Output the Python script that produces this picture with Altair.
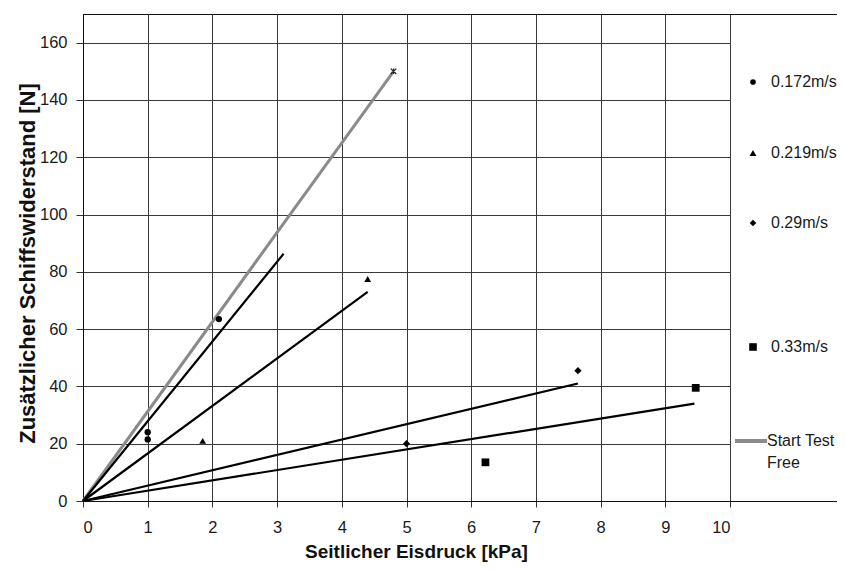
import altair as alt
import pandas as pd

# ---------------- data ----------------
series_names = ["0.172m/s", "0.219m/s", "0.29m/s", "0.33m/s"]
series_shapes = ["circle", "triangle-up", "diamond", "square"]
series_sizes = [40, 60, 55, 72]

x_0172 = [1.0, 1.0, 2.1]
y_0172 = [24.0, 21.5, 63.5]
x_0219 = [1.85, 4.4]
y_0219 = [21.0, 77.5]
x_029 = [5.0, 7.65]
y_029 = [20.0, 45.5]
x_033 = [6.22, 9.47]
y_033 = [13.5, 39.5]

# "Start Test Free" line (grey) and its end marker
start_x = [0.0, 4.8]
start_y = [0.0, 150.0]

# black fit lines, all starting at the origin
fit_end_x = [3.1, 4.4, 7.65, 9.45]
fit_end_y = [86.3, 73.0, 41.0, 34.0]

x_ticks = list(range(0, 11))
y_ticks = list(range(0, 161, 20))

legend_labels = series_names + ["Start Test", "Free"]

# ---------------- tables ----------------
pts_rows = []
for name, xs, ys in zip(series_names, [x_0172, x_0219, x_029, x_033],
                        [y_0172, y_0219, y_029, y_033]):
    for xv, yv in zip(xs, ys):
        pts_rows.append({"x": xv, "y": yv, "series": name})
pts = pd.DataFrame(pts_rows)

fit_rows = []
for i, (ex, ey) in enumerate(zip(fit_end_x, fit_end_y)):
    fit_rows.append({"x": 0.0, "y": 0.0, "fit": i})
    fit_rows.append({"x": ex, "y": ey, "fit": i})
fits = pd.DataFrame(fit_rows)

start = pd.DataFrame({"x": start_x, "y": start_y})
star = start.iloc[[-1]]

W, H = 647, 487
xscale = alt.Scale(domain=[0, 10], nice=False, zero=True)
yscale = alt.Scale(domain=[0, 170], nice=False, zero=True)

FONT = "Liberation Sans"

xaxis = alt.Axis(values=x_ticks, title="Seitlicher Eisdruck [kPa]", grid=True,
                 tickSize=6, labelPadding=12, titleFontSize=19,
                 titleX=333, titleY=50, titleBaseline="middle")
yaxis = alt.Axis(values=y_ticks, title="Zusätzlicher Schiffswiderstand [N]", grid=True,
                 tickSize=7, labelPadding=9, titleFontSize=22,
                 titleX=-56, titleY=249, titleBaseline="middle")

base_x = alt.X("x:Q", scale=xscale, axis=xaxis)
base_y = alt.Y("y:Q", scale=yscale, axis=yaxis)

grey = alt.Chart(start).mark_line(color="#8a8a8a", strokeWidth=3).encode(x=base_x, y=base_y)

lines = alt.Chart(fits).mark_line(color="black", strokeWidth=2.2).encode(
    x=base_x, y=base_y, detail="fit:N")

points = alt.Chart(pts).mark_point(filled=True, color="black", opacity=1).encode(
    x=base_x, y=base_y,
    shape=alt.Shape("series:N", scale=alt.Scale(domain=series_names, range=series_shapes), legend=None),
    size=alt.Size("series:N", scale=alt.Scale(domain=series_names, range=series_sizes), legend=None),
)

star_mark = alt.Chart(star).mark_point(
    shape="M-1,-1L1,1M-1,1L1,-1M0,-1L0,1", filled=False, color="#222",
    strokeWidth=1.2, size=30, opacity=1).encode(x=base_x, y=base_y)

# ---------------- hand-drawn legend box on the right ----------------
legend_sym_x = 670
legend_text_x = 688
legend_ys = [68, 139, 209, 333]
LFS = 16
layers = [grey, lines, points, star_mark]

for label, shp, sz, ly in zip(series_names, series_shapes, series_sizes, legend_ys):
    d = pd.DataFrame({"label": [label]})
    layers.append(alt.Chart(d).mark_point(filled=True, color="black", shape=shp,
                                          size=sz * 0.8, opacity=1).encode(
        x=alt.value(legend_sym_x), y=alt.value(ly)))
    layers.append(alt.Chart(d).mark_text(align="left", baseline="middle", font=FONT,
                                         fontSize=LFS, color="#1a1a1a").encode(
        x=alt.value(legend_text_x), y=alt.value(ly), text="label:N"))

d_start = pd.DataFrame({"label": legend_labels[4:]})
layers.append(alt.Chart(d_start.iloc[[0]]).mark_rule(color="#8a8a8a", strokeWidth=4).encode(
    x=alt.value(652), x2=alt.value(684), y=alt.value(427)))
layers.append(alt.Chart(d_start.iloc[[0]]).mark_text(align="left", baseline="middle", font=FONT,
                                                      fontSize=LFS, color="#1a1a1a").encode(
    x=alt.value(684), y=alt.value(427), text="label:N"))
layers.append(alt.Chart(d_start.iloc[[1]]).mark_text(align="left", baseline="middle", font=FONT,
                                                      fontSize=LFS, color="#1a1a1a").encode(
    x=alt.value(684), y=alt.value(449), text="label:N"))

# legend frame: top and bottom border lines
frame = pd.DataFrame({"edge": ["top", "bottom"]})
layers.append(alt.Chart(frame.iloc[[0]]).mark_rule(color="#111", strokeWidth=1).encode(
    x=alt.value(W), x2=alt.value(W + 130), y=alt.value(0.5)))
layers.append(alt.Chart(frame.iloc[[1]]).mark_rule(color="#111", strokeWidth=1).encode(
    x=alt.value(W), x2=alt.value(W + 130), y=alt.value(H + 0.5)))

chart = alt.layer(*layers).properties(
    width=W, height=H,
    autosize=alt.AutoSizeParams(type="none"),
    padding={"left": 75, "top": 6, "right": 107, "bottom": 61},
).configure_view(
    stroke="#111", strokeWidth=1
).configure_axis(
    labelFont=FONT, labelFontSize=16.5, labelColor="#1a1a1a",
    titleFont=FONT, titleFontWeight="bold", titleColor="#111",
    gridColor="#3a3a3a", gridWidth=1, gridOpacity=1,
    domainColor="#111", tickColor="#333", tickWidth=1,
)

chart.save("out.html", embed_options={"renderer": "svg", "actions": False})
